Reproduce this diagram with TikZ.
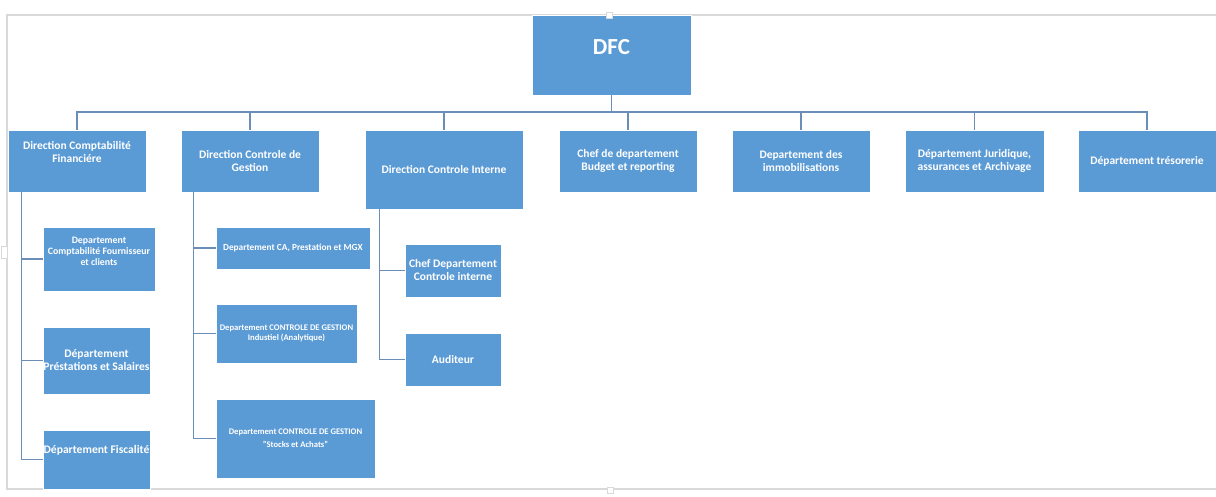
\documentclass[tikz,border=0pt]{standalone}
\usepackage{fontspec}
\setmainfont{Carlito}
\usepackage{tikz}
\usetikzlibrary{calc}
\definecolor{boxblue}{HTML}{5B9BD5}
\definecolor{linkblue}{HTML}{6A8EB8}
\definecolor{framegray}{HTML}{D9D9D9}
\tikzstyle{unit} = [rectangle, inner sep=0pt, align=center, text centered, draw=white, line width=0.6pt, fill=boxblue, text=white, font=\fontsize{11.5}{13}\selectfont\bfseries]
\tikzstyle{link} = [draw=linkblue, line width=1.5pt]
\tikzstyle{handle} = [rectangle, draw=framegray, fill=white, line width=0.8pt, minimum width=6pt, minimum height=6pt, inner sep=0pt]
\begin{document}
\begin{tikzpicture}[x=1pt, y=-1pt]
    \useasboundingbox (0,0) rectangle (1216,496);

    % frame of the page
    \draw[framegray, line width=1.5pt] (1218,15) -- (7,15) -- (7,489) -- (1218,489);

    \node (dfc) [unit, minimum width=159pt, minimum height=80pt, font=\fontsize{23}{26}\selectfont\bfseries, text depth=16pt] at (611.5,55) {DFC};
    \coordinate (bus) at (611.5,112);

    \node (dcf) [unit, minimum width=138pt, minimum height=62pt] at (77,161) {Direction Comptabilité\\Financiére\\[6pt]\mbox{}};
    \node (dcg) [unit, minimum width=138pt, minimum height=62pt] at (250,161) {Direction Controle de\\Gestion};
    \node (dci) [unit, minimum width=158pt, minimum height=79pt] at (444,169.5) {Direction Controle Interne};
    \node (budget) [unit, minimum width=138pt, minimum height=62pt] at (628,161) {Chef de departement\\Budget et reporting};
    \node (immo) [unit, minimum width=138pt, minimum height=62pt] at (801,161) {Departement des\\immobilisations};
    \node (jur) [unit, minimum width=139pt, minimum height=62pt] at (974.5,161) {Département Juridique,\\assurances et Archivage};
    \node (treso) [unit, minimum width=138pt, minimum height=62pt] at (1147,161) {Département trésorerie};

    % comptabilite financiere
    \node (dcfa) [unit, minimum width=112pt, minimum height=64pt, font=\fontsize{9.8}{11}\selectfont\bfseries] at (99,259) {Departement\\Comptabilité Fournisseur\\et clients\\[5pt]\mbox{}};
    \node (dcfb) [unit, minimum width=107pt, minimum height=67pt, font=\fontsize{11.6}{13}\selectfont\bfseries] at (96.5,360.5) {Département\\Préstations et Salaires};
    \node (dcfc) [unit, minimum width=107pt, minimum height=59pt, font=\fontsize{11.6}{13}\selectfont\bfseries] at (96.5,459.5) {Département Fiscalité\\[7pt]\mbox{}};

    % controle de gestion
    \node (dcga) [unit, minimum width=154pt, minimum height=42pt, font=\fontsize{9.3}{10}\selectfont\bfseries] at (293,248) {Departement CA, Prestation et MGX};
    \node (dcgb) [unit, minimum width=141pt, minimum height=59pt, font=\fontsize{8.6}{10}\selectfont\bfseries] at (286.5,333.5) {Departement CONTROLE DE GESTION\\Industiel (Analytique)};
    \node (dcgc) [unit, minimum width=159pt, minimum height=79pt, font=\fontsize{8.6}{13}\selectfont\bfseries] at (295.5,438.5) {Departement CONTROLE DE GESTION\\"Stocks et Achats"};

    % controle interne
    \node (dcia) [unit, minimum width=96pt, minimum height=53pt] at (453,270.5) {Chef Departement\\Controle interne};
    \node (dcib) [unit, minimum width=96pt, minimum height=53pt] at (453,359.5) {Auditeur};

    \draw[link] (dfc.south) -- (bus) -| (dcf.north);
    \draw[link] (dfc.south) -- (bus) -| (dcg.north);
    \draw[link] (dfc.south) -- (bus) -| (dci.north);
    \draw[link] (dfc.south) -- (bus) -| (budget.north);
    \draw[link] (dfc.south) -- (bus) -| (immo.north);
    \draw[link] (dfc.south) -- (bus) -| (jur.north);
    \draw[link] (dfc.south) -- (bus) -| (treso.north);

    \draw[link] ([xshift=14pt]dcf.south west) |- (dcfa.west);
    \draw[link] ([xshift=14pt]dcf.south west) |- (dcfb.west);
    \draw[link] ([xshift=14pt]dcf.south west) |- (dcfc.west);

    \draw[link] ([xshift=13pt]dcg.south west) |- (dcga.west);
    \draw[link] ([xshift=13pt]dcg.south west) |- (dcgb.west);
    \draw[link] ([xshift=13pt]dcg.south west) |- (dcgc.west);

    \draw[link] ([xshift=15pt]dci.south west) |- (dcia.west);
    \draw[link] ([xshift=15pt]dci.south west) |- (dcib.west);

    % handles of the frame
    \node (htop) [handle] at (609,15) {};
    \node (hbot) [handle] at (610,490) {};
    \node (hleft) [handle, minimum height=12pt] at (4,252) {};

\end{tikzpicture}
\end{document}
